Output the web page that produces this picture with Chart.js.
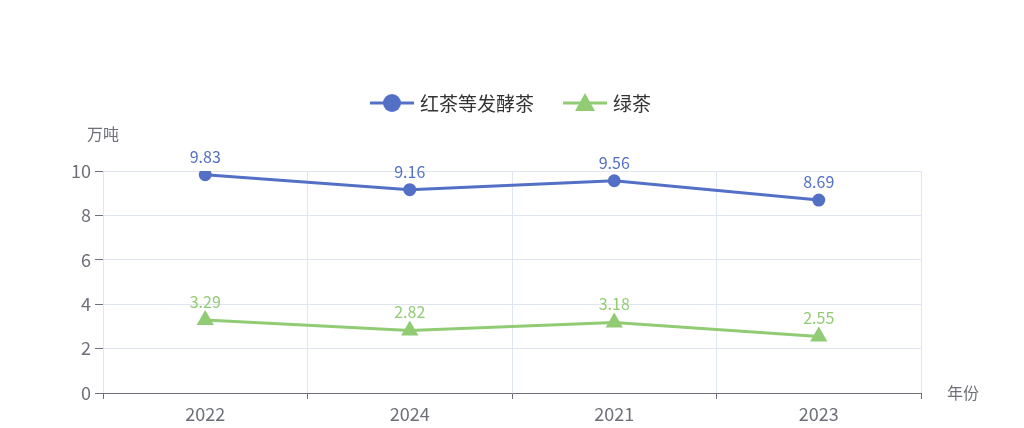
<!DOCTYPE html>
<html><head><meta charset="utf-8">
<script src="https://cdn.jsdelivr.net/npm/chart.js@4"></script>
<style>html,body{margin:0;background:#fff}#wrap{width:1024px;height:428px}</style>
</head><body><div id="wrap"><canvas id="c" width="1024" height="428"></canvas></div>
<script>
const years = ['2022', '2024', '2021', '2023'];
const blackTea = [9.83, 9.16, 9.56, 8.69];
const greenTea = [3.29, 2.82, 3.18, 2.55];
const seriesNames = ['红茶等发酵茶', '绿茶'];
const FONT = '"Noto Sans CJK SC", "Noto Sans", sans-serif';

const extras = {
  id: 'extras',
  afterDatasetsDraw(chart) {
    const ctx = chart.ctx;
    ctx.save();
    ctx.font = '16px ' + FONT;
    ctx.textAlign = 'center';
    ctx.textBaseline = 'bottom';
    chart.data.datasets.forEach((ds, i) => {
      chart.getDatasetMeta(i).data.forEach((pt, j) => {
        ctx.fillStyle = ds.borderColor;
        ctx.fillText(ds.data[j], pt.x, pt.y - 10);
      });
    });
    // axis names
    ctx.fillStyle = '#6e7079';
    ctx.font = '16px ' + FONT;
    ctx.textBaseline = 'middle';
    ctx.fillText('万吨', 103, 134);
    ctx.textAlign = 'left';
    ctx.fillText('年份', 947, 393);
    // legend
    const items = [
      {x: 370, c: '#5470c6', t: seriesNames[0], s: 'circle'},
      {x: 563, c: '#91cc75', t: seriesNames[1], s: 'triangle'}
    ];
    const ly = 103;
    ctx.font = '19px ' + FONT;
    items.forEach(it => {
      ctx.strokeStyle = it.c; ctx.fillStyle = it.c; ctx.lineWidth = 3;
      ctx.beginPath(); ctx.moveTo(it.x, ly); ctx.lineTo(it.x + 44, ly); ctx.stroke();
      ctx.beginPath();
      if (it.s === 'circle') ctx.arc(it.x + 22, ly, 9, 0, Math.PI * 2);
      else { ctx.moveTo(it.x + 22, ly - 10); ctx.lineTo(it.x + 32, ly + 8); ctx.lineTo(it.x + 12, ly + 8); ctx.closePath(); }
      ctx.fill();
      ctx.fillStyle = '#333';
      ctx.fillText(it.t, it.x + 50, ly + 1);
    });
    ctx.restore();
  }
};

new Chart(document.getElementById('c'), {
  type: 'line',
  data: {
    labels: years,
    datasets: [
      {label: seriesNames[0], data: blackTea, borderColor: '#5470c6', backgroundColor: '#5470c6',
       borderWidth: 3, pointRadius: 5, pointStyle: 'circle'},
      {label: seriesNames[1], data: greenTea, borderColor: '#91cc75', backgroundColor: '#91cc75',
       borderWidth: 3, pointRadius: 7, pointStyle: 'triangle'}
    ]
  },
  options: {
    responsive: false,
    animation: false,
    devicePixelRatio: 1,
    layout: {padding: {top: 171, right: 103, left: 0, bottom: 0}},
    plugins: {legend: {display: false}, tooltip: {enabled: false}},
    scales: {
      x: {
        offset: true,
        afterFit(s) { s.height = 35; },
        grid: {offset: true, color: '#e0e6f1', tickColor: '#6e7079', tickLength: 6, drawOnChartArea: true},
        border: {color: '#6e7079', width: 1},
        ticks: {color: '#6e7079', font: {size: 18, family: FONT}, padding: 4}
      },
      y: {
        min: 0, max: 10,
        afterFit(s) { s.width = 103; },
        grid: {color: '#e0e6f1', tickLength: 8, tickColor: '#6e7079'},
        border: {display: false},
        ticks: {stepSize: 2, color: '#6e7079', font: {size: 18, family: FONT}, padding: 4}
      }
    }
  },
  plugins: [extras]
});
</script></body></html>
